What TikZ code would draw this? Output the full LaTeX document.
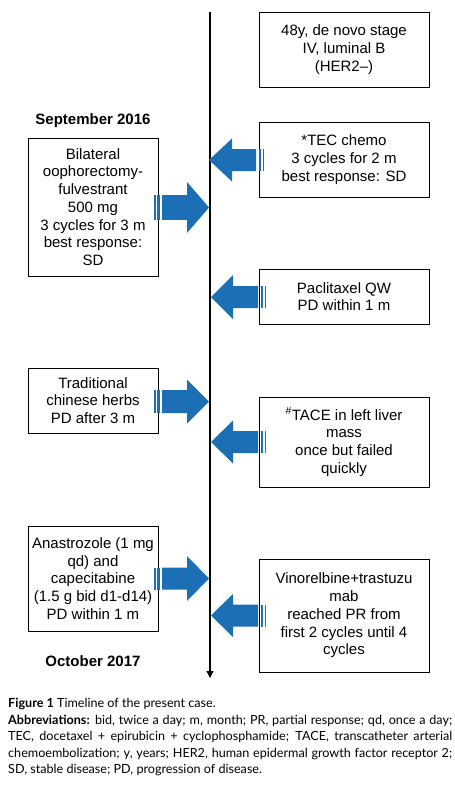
\documentclass[tikz,border=0pt]{standalone}
\usepackage{fontspec}
\setmainfont{Liberation Sans}
\newfontfamily\capfont{Lato}
\usetikzlibrary{arrows.meta}
\definecolor{tlblue}{RGB}{28,110,181}
\newcommand\blkarrow[6]{%
  \begin{scope}[shift={(#1,#2)},xscale=#3]
    \fill[blockarrow] (0,0) -- (-#6,#4) -- (-#6,#5) -- (-47,#5) -- (-47,-#5) -- (-#6,-#5) -- (-#6,-#4) -- cycle;
    \fill[blockarrow] (-49.5,#5) rectangle (-52,-#5);
    \fill[blockarrow] (-53.5,#5) rectangle (-55,-#5);
  \end{scope}}
\begin{document}
\begin{tikzpicture}[x=1pt,y=-1pt,
  box/.style={draw=black,line width=0.9pt,align=center,inner sep=0pt,
    font=\fontsize{15}{17.7}\selectfont},
  datelbl/.style={font=\fontsize{15}{17.7}\selectfont\bfseries},
  timeline/.style={line width=1.1pt,-{Triangle[width=7pt,length=7pt]}},
  blockarrow/.style={fill=tlblue}]
\useasboundingbox (0,0) rectangle (455,787);
\fill[white] (0,0) rectangle (455,787);
% timeline
\coordinate (top) at (210,12);
\coordinate (bottom) at (210,678);
\draw[timeline] (top) -- (bottom);
% boxes
\node[box,minimum width=170pt,minimum height=75pt] (b1) at (344,49.5) {48y, de novo stage\\IV, luminal B\\(HER2--)};
\node[box,minimum width=170pt,minimum height=75pt] (tec) at (344,159.5) {*TEC chemo\\3 cycles for 2 m\\best response: SD};
\node[box,minimum width=130pt,minimum height=138pt] (bil) at (93,207) {Bilateral\\oophorectomy-\\fulvestrant\\500 mg\\3 cycles for 3 m\\best response:\\SD};
\node[box,minimum width=170pt,minimum height=55pt] (pac) at (344,296.5) {Paclitaxel QW\\PD within 1 m};
\node[box,minimum width=130pt,minimum height=65pt] (tcm) at (93,400.5) {Traditional\\chinese herbs\\PD after 3 m};
\node[box,minimum width=170pt,minimum height=90pt] (tace) at (344,442) {\textsuperscript{\#}TACE in left liver\\mass\\once but failed\\quickly};
\node[box,minimum width=130pt,minimum height=105pt] (ana) at (93,578.5) {Anastrozole (1 mg\\qd) and\\capecitabine\\(1.5 g bid d1-d14)\\PD within 1 m};
\node[box,minimum width=170pt,minimum height=113pt] (vin) at (344,615.5) {Vinorelbine+trastuzu\\mab\\reached PR from\\first 2 cycles until 4\\cycles};
% dates
\node[datelbl] (sep) at (93,121) {September 2016};
\node[datelbl] (oct) at (93,661) {October 2017};
% block arrows
\blkarrow{209}{207.5}{1}{25.5}{12.3}{22}
\blkarrow{209}{160}{-1}{21.5}{11}{23}
\blkarrow{211}{297}{-1}{22}{11}{22}
\blkarrow{209}{401.5}{1}{22}{11.5}{22}
\blkarrow{211}{442}{-1}{21.5}{11}{22}
\blkarrow{209}{578.5}{1}{22.5}{11}{22}
\blkarrow{211}{615.5}{-1}{21.5}{11}{22}
% caption
\node[anchor=north west,inner sep=0pt,text width=444pt,align=justify,
  font=\capfont\fontsize{12.6}{16.6}\selectfont] (cap) at (8,698)
 {\textbf{Figure 1} Timeline of the present case.\\
 \textbf{Abbreviations:} bid, twice a day; m, month; PR, partial response; qd, once a day;\linebreak
 TEC, docetaxel + epirubicin + cyclophosphamide; TACE, transcatheter arterial\linebreak
 chemoembolization; y, years; HER2, human epidermal growth factor receptor 2;\linebreak
 SD, stable disease; PD, progression of disease.};
\end{tikzpicture}
\end{document}
